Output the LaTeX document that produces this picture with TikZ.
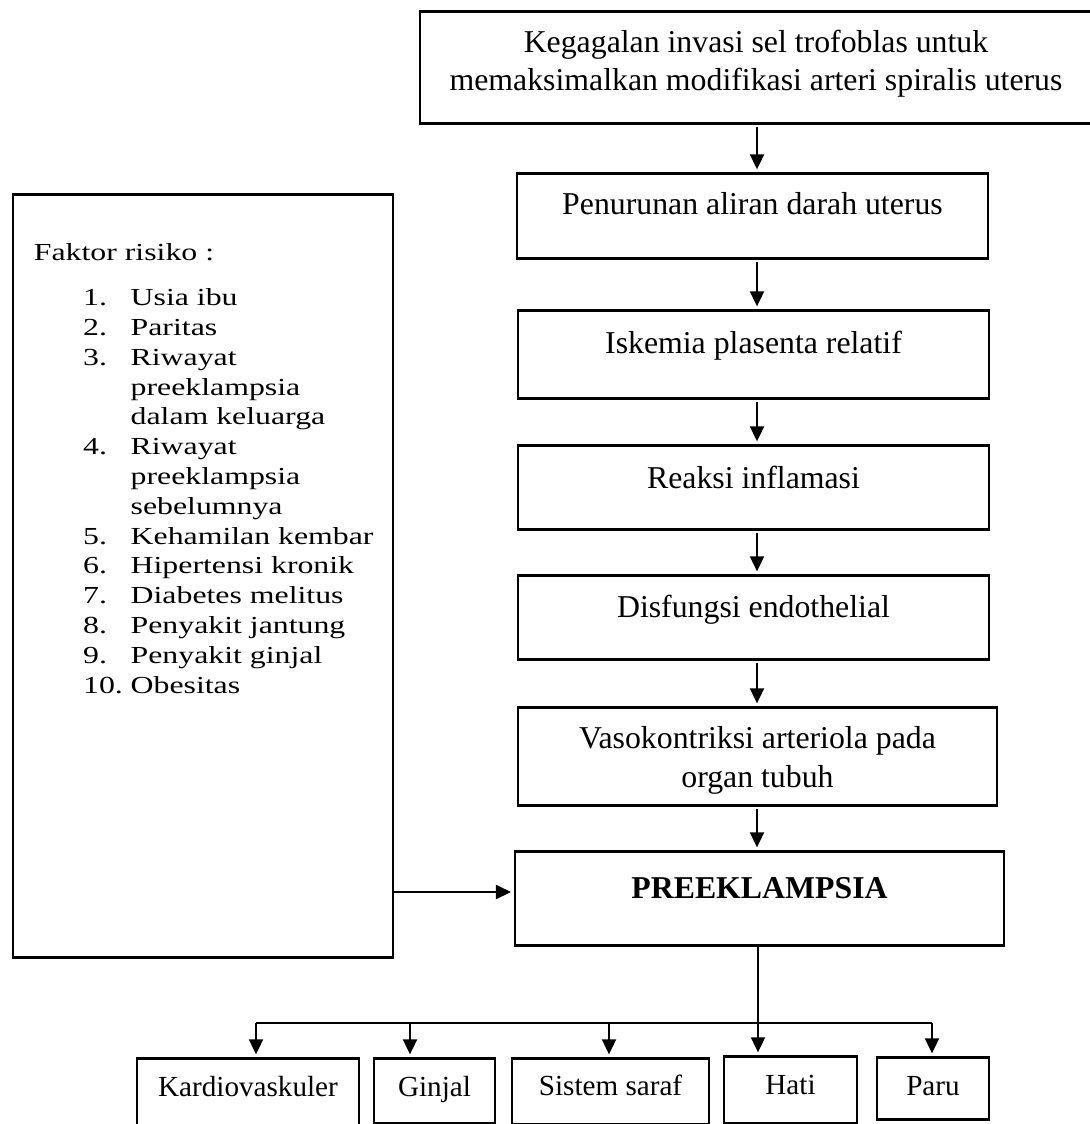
\documentclass[tikz,border=0pt]{standalone}
\usepackage{fontspec}
\setmainfont{Liberation Serif}
\usetikzlibrary{arrows.meta}
\newcommand{\px}{0.3774pt}

\begin{document}
\begin{tikzpicture}[x=\px,y=-\px,
  every node/.style={font=\fontsize{12}{14.5}\selectfont},
  box/.style={draw,line width=1pt,inner sep=0pt,anchor=north,align=center},
  organ/.style={box,font=\fontsize{11}{13}\selectfont},
  daftar/.style={anchor=base west,inner sep=0pt},
  panah/.style={line width=0.75pt,-{Triangle[length=5.7pt,width=5.3pt]},shorten <=1pt,shorten >=1pt}]
  \useasboundingbox (0,0) rectangle (1090,1124);
  \coordinate (poros) at (757,0);

  % alur utama
  \node[box,minimum width=672*\px,text height=79.3*\px,text depth=32.7*\px] (gagal) at (756,10)
    {Kegagalan invasi sel trofoblas untuk\\memaksimalkan modifikasi arteri spiralis uterus};
  \node[box,minimum width=471*\px,text height=41.3*\px,text depth=43.7*\px] (turun) at (752.5,172)
    {Penurunan aliran darah uterus};
  \node[box,minimum width=471*\px,text height=42.7*\px,text depth=45.3*\px] (iskemia) at (753.5,309)
    {Iskemia plasenta relatif};
  \node[box,minimum width=471*\px,text height=42.7*\px,text depth=41.3*\px] (reaksi) at (753.5,444)
    {Reaksi inflamasi};
  \node[box,minimum width=471*\px,text height=42*\px,text depth=42*\px] (disfungsi) at (753.5,574)
    {Disfungsi endothelial};
  \node[box,minimum width=479*\px,text height=79.7*\px,text depth=18.3*\px] (vaso) at (757.5,706)
    {Vasokontriksi arteriola pada\\organ tubuh};
  \node[box,minimum width=489*\px,text height=46.7*\px,text depth=47.3*\px] (pe) at (759.5,850)
    {\textbf{PREEKLAMPSIA}};

  \foreach \a/\b in {gagal/turun,turun/iskemia,iskemia/reaksi,reaksi/disfungsi,disfungsi/vaso,vaso/pe}
    \draw[panah] (\a.south -| poros) -- (\b.north -| poros);

  % faktor risiko
  \node[box,minimum width=380*\px,minimum height=763*\px] (faktor) at (203,193) {};
  \node[daftar] (judul) at (33.4,260) {\scalebox{1}[0.77]{Faktor risiko :}};
  \foreach \no/\isi [count=\i from 0] in {1./Usia ibu,2./Paritas,3./Riwayat,/preeklampsia,
      /dalam keluarga,4./Riwayat,/preeklampsia,/sebelumnya,5./Kehamilan kembar,
      6./Hipertensi kronik,7./Diabetes melitus,8./Penyakit jantung,9./Penyakit ginjal,10./Obesitas}
    \node[daftar] (baris\i) at (82.6,305.7+29.8*\i)
      {\scalebox{1}[0.77]{\makebox[17.96pt][l]{\no}\isi}};
  \draw[panah,shorten <=0pt] (faktor.east |- 0,892) -- (pe.west |- 0,892);

  % organ
  \node[organ,minimum width=222*\px,text height=38*\px,text depth=31*\px] (kardio) at (248,1057) {Kardiovaskuler};
  \node[organ,minimum width=121*\px,text height=38*\px,text depth=27*\px] (ginjal) at (434.5,1057) {Ginjal};
  \node[organ,minimum width=197*\px,text height=37*\px,text depth=29*\px] (saraf) at (610.5,1057) {Sistem saraf};
  \node[organ,minimum width=133*\px,text height=37.7*\px,text depth=29.3*\px] (hati) at (790.5,1055) {Hati};
  \node[organ,minimum width=112*\px,text height=38*\px,text depth=24*\px] (paru) at (933,1056) {Paru};

  \coordinate (c1) at (256,1023);
  \coordinate (c2) at (410,1023);
  \coordinate (c3) at (609,1023);
  \coordinate (c5) at (932,1023);
  \draw[line width=0.5pt] (c1) -- (c5);
  \draw[panah,shorten <=0pt] (pe.south -| 758,0) -- (hati.north -| 758,0);
  \draw[panah,shorten <=0pt] (c1) -- (kardio.north -| c1);
  \draw[panah,shorten <=0pt] (c2) -- (ginjal.north -| c2);
  \draw[panah,shorten <=0pt] (c3) -- (saraf.north -| c3);
  \draw[panah,shorten <=0pt] (c5) -- (paru.north -| c5);
\end{tikzpicture}
\end{document}
